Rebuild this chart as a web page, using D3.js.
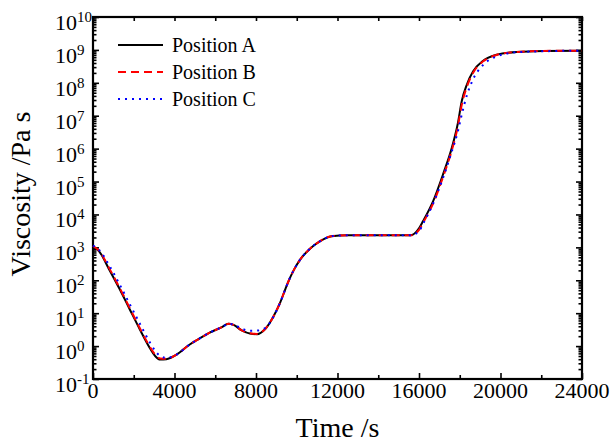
<!DOCTYPE html>
<html>
<head>
<meta charset="utf-8">
<script src="https://cdn.jsdelivr.net/npm/d3@7"></script>
<style>
  body { margin: 0; background: #fff; }
  svg text { font-family: "Times New Roman", "Liberation Serif", serif; fill: #000; }
</style>
</head>
<body>
<svg width="610" height="443"></svg>
<script>
// time grid (s), shared by all three positions
var times = [0, 300, 800, 1300, 1800, 2300, 2800, 3050, 3300, 3600, 4100, 4750, 5200, 5750, 6300, 6650, 6900, 7300, 7700, 8050, 8450, 8850, 9200, 9450, 9650, 9900, 10150, 10650, 11150, 11700, 12500, 14000, 15600, 16000, 16200, 16700, 17200, 17600, 17900, 18100, 18350, 18650, 19150, 19800, 20800, 22100, 24000];

// viscosity (Pa s)
var viscA = [1.07e3, 7.6e2, 2.1e2, 55, 13.2, 3.2, 0.85, 0.50, 0.39, 0.40, 0.55, 1.12, 1.66, 2.6, 3.7, 4.8, 4.4, 3.0, 2.4, 2.3, 3.3, 7.8, 22, 56, 112, 230, 410, 910, 1550, 2190, 2340, 2340, 2340, 3800, 6300, 2.6e4, 1.8e5, 1.0e6, 5.6e6, 2.8e7, 8.9e7, 2.2e8, 4.7e8, 7.1e8, 8.7e8, 9.3e8, 9.5e8];
var viscB = [1.1e3, 7.9e2, 2.3e2, 60, 14.5, 3.5, 0.93, 0.55, 0.42, 0.41, 0.55, 1.12, 1.66, 2.6, 3.7, 4.8, 4.4, 3.0, 2.45, 2.35, 3.3, 7.8, 22, 56, 112, 230, 410, 910, 1550, 2190, 2340, 2340, 2340, 3400, 5600, 2.2e4, 1.5e5, 8.5e5, 4.5e6, 2.2e7, 7.6e7, 2.0e8, 4.5e8, 7.0e8, 8.7e8, 9.3e8, 9.5e8];
var viscC = [1.12e3, 8.3e2, 2.8e2, 76, 19, 4.8, 1.26, 0.72, 0.50, 0.44, 0.55, 1.12, 1.66, 2.6, 3.7, 4.7, 4.5, 3.4, 2.9, 2.95, 3.5, 7.6, 22, 56, 112, 230, 410, 910, 1550, 2190, 2340, 2340, 2340, 3100, 5200, 2.2e4, 1.4e5, 7.9e5, 3.2e6, 1.1e7, 4.2e7, 1.26e8, 3.5e8, 6.3e8, 8.5e8, 9.1e8, 9.5e8];

var seriesNames = ["Position A", "Position B", "Position C"];
var xTicks = [0, 4000, 8000, 12000, 16000, 20000, 24000];
var yExps = [-1, 0, 1, 2, 3, 4, 5, 6, 7, 8, 9, 10];

var series = [
  { name: seriesNames[0], vals: viscA, color: "#000000", dash: null },
  { name: seriesNames[1], vals: viscB, color: "#ff0000", dash: "8,5" },
  { name: seriesNames[2], vals: viscC, color: "#0000ff", dash: "2,5" }
];

var pLeft = 93, pRight = 582, pTop = 17, pBottom = 379;
var svg = d3.select("svg");

var x = d3.scaleLinear().domain([0, 24000]).range([pLeft, pRight]);
var y = d3.scaleLog().domain([1e-1, 1e10]).range([pBottom, pTop]);

// minor tick positions
var xMinor = d3.range(2000, 24000, 4000);
var yMinor = [];
yExps.slice(0, -1).forEach(function(e) {
  for (var k = 2; k < 10; k++) yMinor.push(k * Math.pow(10, e));
});
var yMajor = yExps.map(function(e) { return Math.pow(10, e); });

function tickGroup(axis, tx, ty) {
  var g = svg.append("g")
    .attr("transform", "translate(" + tx + "," + ty + ")")
    .call(axis);
  g.select(".domain").remove();
  g.selectAll("text").remove();
  g.selectAll("line").attr("stroke", "#000").attr("stroke-width", 1.6);
  return g;
}

// bottom / top ticks (inward)
tickGroup(d3.axisBottom(x).tickValues(xTicks).tickSize(-6), 0, pBottom);
tickGroup(d3.axisBottom(x).tickValues(xMinor).tickSize(-4), 0, pBottom);
tickGroup(d3.axisTop(x).tickValues(xTicks).tickSize(-4), 0, pTop);
tickGroup(d3.axisTop(x).tickValues(xMinor).tickSize(-4), 0, pTop);

// left / right ticks (inward)
tickGroup(d3.axisLeft(y).tickValues(yMajor).tickSize(-6), pLeft, 0);
tickGroup(d3.axisLeft(y).tickValues(yMinor).tickSize(-3.5), pLeft, 0);
tickGroup(d3.axisRight(y).tickValues(yMajor).tickSize(-6), pRight, 0);
tickGroup(d3.axisRight(y).tickValues(yMinor).tickSize(-3.5), pRight, 0);

// frame
svg.append("rect")
  .attr("x", pLeft).attr("y", pTop)
  .attr("width", pRight - pLeft).attr("height", pBottom - pTop)
  .attr("fill", "none").attr("stroke", "#000").attr("stroke-width", 2.2);

// x tick labels
svg.selectAll(".xlab")
  .data(xTicks)
  .enter().append("text")
  .attr("class", "xlab")
  .attr("x", function(d) { return x(d); })
  .attr("y", 398)
  .attr("text-anchor", "middle")
  .style("font-size", "22px")
  .text(function(d) { return d; });

// y tick labels 10^n
var ylab = svg.selectAll(".ylab")
  .data(yExps)
  .enter().append("text")
  .attr("class", "ylab")
  .attr("x", 55)
  .attr("y", function(d) { return y(Math.pow(10, d)) + 13; })
  .style("font-size", "22px");
ylab.append("tspan").text("10");
ylab.append("tspan")
  .attr("dy", -8)
  .style("font-size", "15px")
  .text(function(d) { return d < 0 ? "-" + (-d) : d; });

// axis titles
svg.append("text")
  .attr("x", x(12000))
  .attr("y", 437)
  .attr("text-anchor", "middle")
  .style("font-size", "28px")
  .text("Time /s");

svg.append("text")
  .attr("transform", "translate(30," + ((pTop + pBottom) / 2 - 4) + ") rotate(-90)")
  .attr("text-anchor", "middle")
  .style("font-size", "28px")
  .text("Viscosity /Pa s");

// curves
var line = d3.line()
  .x(function(d) { return x(d[0]); })
  .y(function(d) { return y(d[1]); })
  .curve(d3.curveMonotoneX);

series.forEach(function(s) {
  svg.append("path")
    .datum(times.map(function(t, i) { return [t, s.vals[i]]; }))
    .attr("d", line)
    .attr("fill", "none")
    .attr("stroke", s.color)
    .attr("stroke-width", 2)
    .attr("stroke-dasharray", s.dash);
});

// legend
var legend = svg.selectAll(".legend")
  .data(series)
  .enter().append("g")
  .attr("class", "legend")
  .attr("transform", function(d, i) { return "translate(118," + (45 + i * 27) + ")"; });

legend.append("line")
  .attr("x1", 0).attr("x2", 45)
  .attr("stroke", function(d) { return d.color; })
  .attr("stroke-width", 2)
  .attr("stroke-dasharray", function(d) { return d.dash; });

legend.append("text")
  .attr("x", 54)
  .attr("y", 7)
  .style("font-size", "20px")
  .text(function(d) { return d.name; });
</script>
</body>
</html>
